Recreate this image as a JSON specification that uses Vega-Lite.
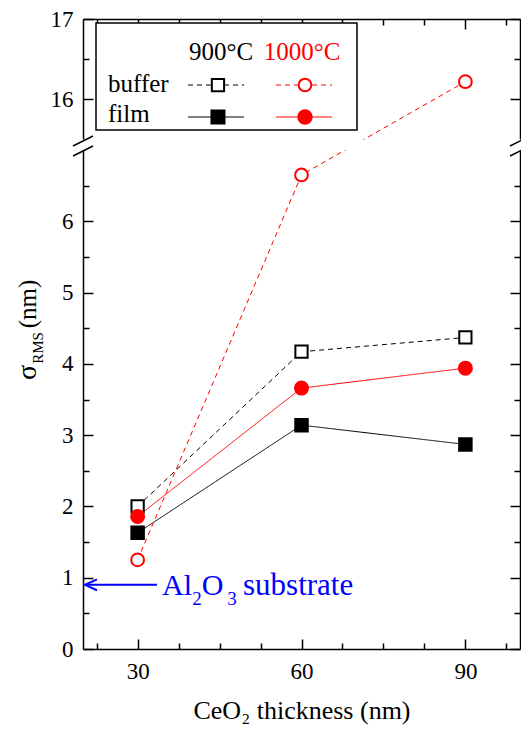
{
  "$schema": "https://vega.github.io/schema/vega-lite/v6.json",
  "autosize": {"type": "none"},
  "width": 437,
  "height": 630,
  "padding": {"left": 83, "top": 19, "right": 1, "bottom": 87},
  "background": "white",
  "data": {"values": [{}]},
  "config": {
    "view": {"stroke": null},
    "font": "Liberation Serif",
    "axis": {"labelFont": "Liberation Serif", "labelFontSize": 23, "labelColor": "black", "domainColor": "black", "domainWidth": 1.5, "tickColor": "black", "tickWidth": 1.5, "grid": false, "titleFont": "Liberation Serif", "titleFontSize": 26, "titleFontWeight": "normal", "titleColor": "black"}
  },
  "datasets": {
    "main": [
      {"thickness": 30, "rms": 2.0, "temp": "900", "kind": "buffer", "series": "900 buffer"},
      {"thickness": 60, "rms": 4.17, "temp": "900", "kind": "buffer", "series": "900 buffer"},
      {"thickness": 90, "rms": 4.37, "temp": "900", "kind": "buffer", "series": "900 buffer"},
      {"thickness": 30, "rms": 1.63, "temp": "900", "kind": "film", "series": "900 film"},
      {"thickness": 60, "rms": 3.14, "temp": "900", "kind": "film", "series": "900 film"},
      {"thickness": 90, "rms": 2.87, "temp": "900", "kind": "film", "series": "900 film"},
      {"thickness": 30, "rms": 1.25, "temp": "1000", "kind": "buffer", "series": "1000 buffer"},
      {"thickness": 60, "rms": 6.65, "temp": "1000", "kind": "buffer", "series": "1000 buffer"},
      {"thickness": 90, "rms": 16.22, "temp": "1000", "kind": "buffer", "series": "1000 buffer"},
      {"thickness": 30, "rms": 1.86, "temp": "1000", "kind": "film", "series": "1000 film"},
      {"thickness": 60, "rms": 3.66, "temp": "1000", "kind": "film", "series": "1000 film"},
      {"thickness": 90, "rms": 3.94, "temp": "1000", "kind": "film", "series": "1000 film"}
    ]
  },
  "resolve": {"scale": {"x": "shared", "y": "shared"}, "axis": {"x": "independent", "y": "independent"}},
  "layer": [
    {
      "data": {"name": "main"},
      "mark": {"type": "line", "strokeWidth": 1},
      "encoding": {
        "x": {"field": "thickness", "type": "quantitative",
          "scale": {"type": "linear", "domain": [20, 100], "nice": false, "zero": false},
          "axis": {"orient": "bottom", "values": [30, 60, 90], "tickSize": -10, "labelPadding": 21, "title": "CeO₂ thickness (nm)", "titlePadding": 14}},
        "y": {"field": "rms", "type": "quantitative",
          "scale": {"type": "linear", "domain": [0, 7, 15.5, 17], "range": [630, 131, 120.5, 0], "nice": false, "zero": false},
          "axis": {"orient": "left", "values": [0, 1, 2, 3, 4, 5, 6, 16, 17], "tickSize": -10, "labelPadding": 20, "title": null}},
        "color": {"field": "temp", "type": "nominal", "scale": {"domain": ["900", "1000"], "range": ["black", "#ff0000"]}, "legend": null},
        "strokeDash": {"field": "kind", "type": "nominal", "scale": {"domain": ["buffer", "film"], "range": [[5, 4], [1, 0]]}, "legend": null},
        "detail": {"field": "series"}
      }
    },
    {
      "data": {"name": "main"},
      "mark": {"type": "point", "filled": true, "strokeWidth": 2, "opacity": 1},
      "encoding": {
        "x": {"field": "thickness", "type": "quantitative",
          "scale": {"type": "linear", "domain": [20, 100], "nice": false, "zero": false},
          "axis": {"orient": "bottom", "values": [22.5, 37.5, 45, 52.5, 67.5, 75, 82.5, 97.5], "tickSize": -6, "labels": false, "domain": false, "title": null}},
        "y": {"field": "rms", "type": "quantitative",
          "scale": {"type": "linear", "domain": [0, 7, 15.5, 17], "range": [630, 131, 120.5, 0], "nice": false, "zero": false},
          "axis": {"orient": "left", "values": [0.5, 1.5, 2.5, 3.5, 4.5, 5.5, 6.5, 16.5], "tickSize": -6, "labels": false, "domain": false, "title": null}},
        "shape": {"field": "temp", "type": "nominal", "scale": {"domain": ["900", "1000"], "range": ["square", "circle"]}, "legend": null},
        "stroke": {"field": "temp", "type": "nominal", "scale": {"domain": ["900", "1000"], "range": ["black", "#ff0000"]}, "legend": null},
        "fill": {"field": "series", "type": "nominal", "scale": {"domain": ["900 buffer", "900 film", "1000 buffer", "1000 film"], "range": ["white", "black", "white", "#ff0000"]}, "legend": null},
        "size": {"field": "series", "type": "nominal", "scale": {"domain": ["900 buffer", "900 film", "1000 buffer", "1000 film"], "range": [150, 169, 160, 180]}, "legend": null}
      }
    },
    {
      "data": {"name": "main"},
      "mark": {"type": "point", "opacity": 0},
      "encoding": {
        "x": {"field": "thickness", "type": "quantitative",
          "scale": {"type": "linear", "domain": [20, 100], "nice": false, "zero": false},
          "axis": {"orient": "top", "values": [30, 60, 90], "tickSize": -10, "labels": false, "title": null}},
        "y": {"field": "rms", "type": "quantitative",
          "scale": {"type": "linear", "domain": [0, 7, 15.5, 17], "range": [630, 131, 120.5, 0], "nice": false, "zero": false},
          "axis": {"orient": "right", "values": [0, 1, 2, 3, 4, 5, 6, 16, 17], "tickSize": -10, "labels": false, "title": null}}
      }
    },
    {
      "data": {"name": "main"},
      "mark": {"type": "point", "opacity": 0},
      "encoding": {
        "x": {"field": "thickness", "type": "quantitative",
          "scale": {"type": "linear", "domain": [20, 100], "nice": false, "zero": false},
          "axis": {"orient": "top", "values": [22.5, 37.5, 45, 52.5, 67.5, 75, 82.5, 97.5], "tickSize": -6, "labels": false, "domain": false, "title": null}},
        "y": {"field": "rms", "type": "quantitative",
          "scale": {"type": "linear", "domain": [0, 7, 15.5, 17], "range": [630, 131, 120.5, 0], "nice": false, "zero": false},
          "axis": {"orient": "right", "values": [0.5, 1.5, 2.5, 3.5, 4.5, 5.5, 6.5, 16.5], "tickSize": -6, "labels": false, "domain": false, "title": null}}
      }
    },
    {
      "mark": {"type": "rect", "fill": "white", "stroke": null},
      "encoding": {
        "x": {"datum": 18, "type": "quantitative", "axis": null}, "x2": {"datum": 102},
        "y": {"datum": 7, "type": "quantitative", "axis": null}, "y2": {"datum": 15.5}
      }
    },
    {
      "mark": {"type": "rule", "stroke": "black", "strokeWidth": 1.5},
      "encoding": {
        "x": {"datum": 18.17, "type": "quantitative", "axis": null}, "x2": {"datum": 21.83},
        "y": {"datum": 10.24, "type": "quantitative", "axis": null}, "y2": {"datum": 15.544}
      }
    },
    {
      "mark": {"type": "rule", "stroke": "black", "strokeWidth": 1.5},
      "encoding": {
        "x": {"datum": 18.17, "type": "quantitative", "axis": null}, "x2": {"datum": 21.83},
        "y": {"datum": 6.916, "type": "quantitative", "axis": null}, "y2": {"datum": 10.24}
      }
    },
    {
      "mark": {"type": "rule", "stroke": "black", "strokeWidth": 1.5},
      "encoding": {
        "x": {"datum": 98.17, "type": "quantitative", "axis": null}, "x2": {"datum": 101.83},
        "y": {"datum": 10.24, "type": "quantitative", "axis": null}, "y2": {"datum": 15.544}
      }
    },
    {
      "mark": {"type": "rule", "stroke": "black", "strokeWidth": 1.5},
      "encoding": {
        "x": {"datum": 98.17, "type": "quantitative", "axis": null}, "x2": {"datum": 101.83},
        "y": {"datum": 6.916, "type": "quantitative", "axis": null}, "y2": {"datum": 10.24}
      }
    },
    {
      "mark": {"type": "rect", "fill": "white", "stroke": "black", "strokeWidth": 1.5},
      "encoding": {
        "x": {"datum": 22.38, "type": "quantitative", "axis": null}, "x2": {"datum": 70.16},
        "y": {"datum": 16.95, "type": "quantitative", "axis": null}, "y2": {"datum": 15.618}
      }
    },
    {
      "mark": {"type": "text", "text": "900°C", "fontSize": 25, "align": "center", "baseline": "alphabetic", "color": "black"},
      "encoding": {"x": {"datum": 45.26, "type": "quantitative", "axis": null}, "y": {"datum": 16.49, "type": "quantitative", "axis": null}}
    },
    {
      "mark": {"type": "text", "text": "1000°C", "fontSize": 25, "align": "center", "baseline": "alphabetic", "color": "#ff0000"},
      "encoding": {"x": {"datum": 60.09, "type": "quantitative", "axis": null}, "y": {"datum": 16.49, "type": "quantitative", "axis": null}}
    },
    {
      "mark": {"type": "text", "text": "buffer", "fontSize": 25, "align": "left", "baseline": "alphabetic", "color": "black"},
      "encoding": {"x": {"datum": 24.58, "type": "quantitative", "axis": null}, "y": {"datum": 16.091, "type": "quantitative", "axis": null}}
    },
    {
      "mark": {"type": "text", "text": "film", "fontSize": 25, "align": "left", "baseline": "alphabetic", "color": "black"},
      "encoding": {"x": {"datum": 24.58, "type": "quantitative", "axis": null}, "y": {"datum": 15.718, "type": "quantitative", "axis": null}}
    },
    {
      "mark": {"type": "rule", "stroke": "black", "strokeWidth": 1, "strokeDash": [5, 4]},
      "encoding": {"x": {"datum": 39.22, "type": "quantitative", "axis": null}, "x2": {"datum": 49.48}, "y": {"datum": 16.178, "type": "quantitative", "axis": null}}
    },
    {
      "mark": {"type": "rule", "stroke": "black", "strokeWidth": 1},
      "encoding": {"x": {"datum": 39.22, "type": "quantitative", "axis": null}, "x2": {"datum": 49.48}, "y": {"datum": 15.78, "type": "quantitative", "axis": null}}
    },
    {
      "mark": {"type": "rule", "stroke": "#ff0000", "strokeWidth": 1, "strokeDash": [5, 4]},
      "encoding": {"x": {"datum": 55.33, "type": "quantitative", "axis": null}, "x2": {"datum": 65.58}, "y": {"datum": 16.178, "type": "quantitative", "axis": null}}
    },
    {
      "mark": {"type": "rule", "stroke": "#ff0000", "strokeWidth": 1},
      "encoding": {"x": {"datum": 55.33, "type": "quantitative", "axis": null}, "x2": {"datum": 65.58}, "y": {"datum": 15.78, "type": "quantitative", "axis": null}}
    },
    {
      "mark": {"type": "point", "shape": "square", "size": 150, "filled": true, "fill": "white", "stroke": "black", "strokeWidth": 2, "opacity": 1},
      "encoding": {"x": {"datum": 44.71, "type": "quantitative", "axis": null}, "y": {"datum": 16.178, "type": "quantitative", "axis": null}}
    },
    {
      "mark": {"type": "point", "shape": "square", "size": 169, "filled": true, "fill": "black", "stroke": "black", "strokeWidth": 2, "opacity": 1},
      "encoding": {"x": {"datum": 44.71, "type": "quantitative", "axis": null}, "y": {"datum": 15.78, "type": "quantitative", "axis": null}}
    },
    {
      "mark": {"type": "point", "shape": "circle", "size": 160, "filled": true, "fill": "white", "stroke": "#ff0000", "strokeWidth": 2, "opacity": 1},
      "encoding": {"x": {"datum": 60.64, "type": "quantitative", "axis": null}, "y": {"datum": 16.178, "type": "quantitative", "axis": null}}
    },
    {
      "mark": {"type": "point", "shape": "circle", "size": 180, "filled": true, "fill": "#ff0000", "stroke": "#ff0000", "strokeWidth": 2, "opacity": 1},
      "encoding": {"x": {"datum": 60.64, "type": "quantitative", "axis": null}, "y": {"datum": 15.78, "type": "quantitative", "axis": null}}
    },
    {
      "mark": {"type": "rule", "stroke": "#0000ff", "strokeWidth": 2},
      "encoding": {"x": {"datum": 20.4, "type": "quantitative", "axis": null}, "x2": {"datum": 33.55}, "y": {"datum": 0.9, "type": "quantitative", "axis": null}}
    },
    {
      "mark": {"type": "point", "shape": "M1,-0.9L-1,0L1,0.9", "size": 144, "filled": false, "stroke": "#0000ff", "strokeWidth": 2, "opacity": 1},
      "encoding": {"x": {"datum": 21.46, "type": "quantitative", "axis": null}, "y": {"datum": 0.9, "type": "quantitative", "axis": null}}
    },
    {
      "mark": {"type": "text", "text": "Al", "fontSize": 30, "align": "left", "baseline": "alphabetic", "color": "#0000ff"},
      "encoding": {"x": {"datum": 34.46, "type": "quantitative", "axis": null}, "y": {"datum": 0.7575, "type": "quantitative", "axis": null}}
    },
    {
      "mark": {"type": "text", "text": "2", "fontSize": 19, "align": "left", "baseline": "alphabetic", "color": "#0000ff"},
      "encoding": {"x": {"datum": 40.0, "type": "quantitative", "axis": null}, "y": {"datum": 0.617, "type": "quantitative", "axis": null}}
    },
    {
      "mark": {"type": "text", "text": "O", "fontSize": 30, "align": "left", "baseline": "alphabetic", "color": "#0000ff"},
      "encoding": {"x": {"datum": 41.75, "type": "quantitative", "axis": null}, "y": {"datum": 0.7575, "type": "quantitative", "axis": null}}
    },
    {
      "mark": {"type": "text", "text": "3", "fontSize": 19, "align": "left", "baseline": "alphabetic", "color": "#0000ff"},
      "encoding": {"x": {"datum": 46.4, "type": "quantitative", "axis": null}, "y": {"datum": 0.617, "type": "quantitative", "axis": null}}
    },
    {
      "mark": {"type": "text", "text": "substrate", "fontSize": 31, "align": "left", "baseline": "alphabetic", "color": "#0000ff"},
      "encoding": {"x": {"datum": 49.3, "type": "quantitative", "axis": null}, "y": {"datum": 0.7575, "type": "quantitative", "axis": null}}
    },
    {
      "mark": {"type": "text", "text": "σ", "fontSize": 28, "angle": 270, "align": "left", "baseline": "alphabetic", "color": "black"},
      "encoding": {"x": {"datum": 11.4, "type": "quantitative", "axis": null}, "y": {"datum": 3.774, "type": "quantitative", "axis": null}}
    },
    {
      "mark": {"type": "text", "text": "RMS", "fontSize": 15, "angle": 270, "align": "left", "baseline": "alphabetic", "color": "black"},
      "encoding": {"x": {"datum": 12.6, "type": "quantitative", "axis": null}, "y": {"datum": 4.0, "type": "quantitative", "axis": null}}
    },
    {
      "mark": {"type": "text", "text": "(nm)", "fontSize": 25, "angle": 270, "align": "left", "baseline": "alphabetic", "color": "black"},
      "encoding": {"x": {"datum": 11.4, "type": "quantitative", "axis": null}, "y": {"datum": 4.5, "type": "quantitative", "axis": null}}
    }
  ]
}
